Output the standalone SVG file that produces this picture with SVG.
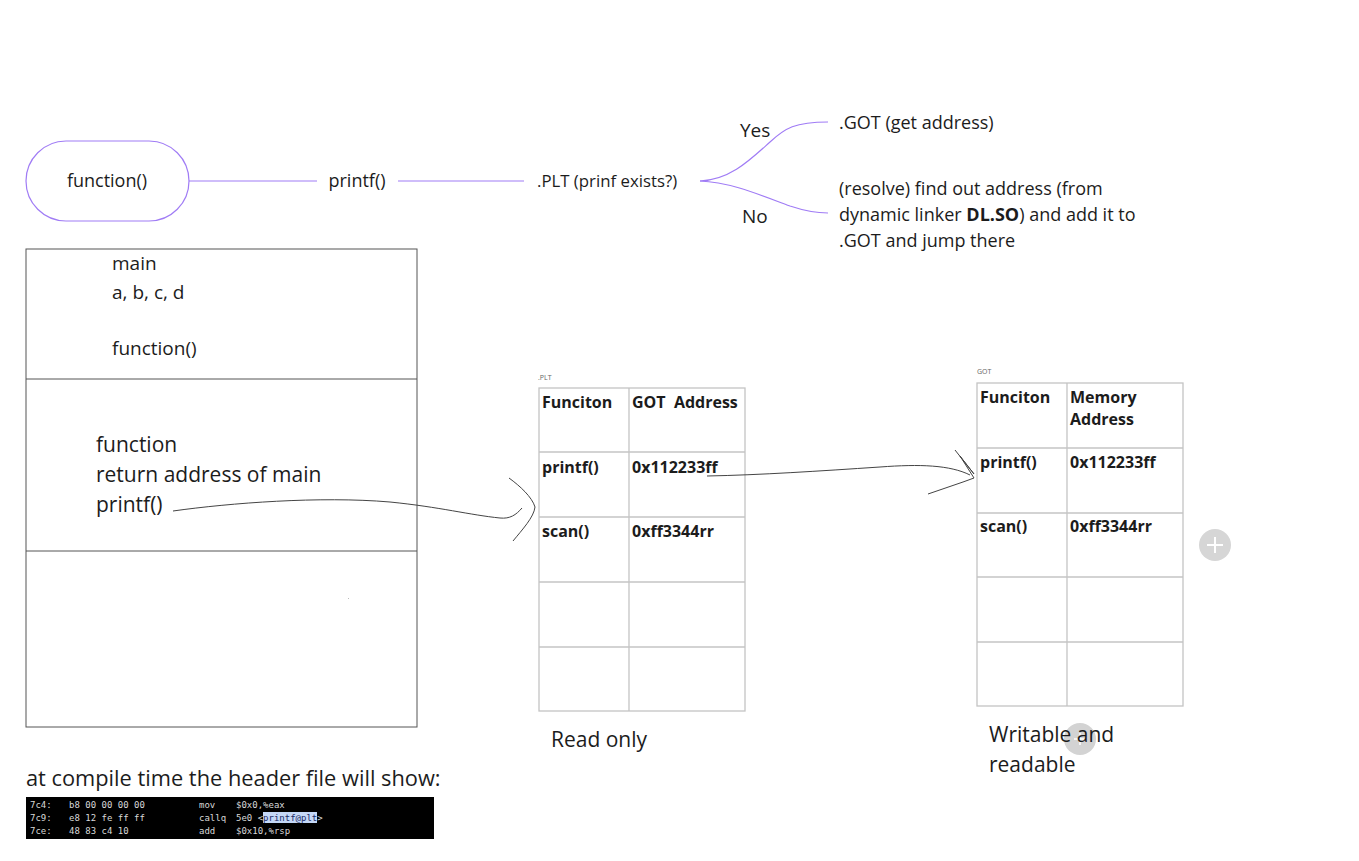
<svg xmlns="http://www.w3.org/2000/svg" width="1359" height="861" viewBox="0 0 1359 861">
<style>
text{font-family:"Open Sans","Liberation Sans",sans-serif;fill:#1c1c1c}
.t16{font-size:18px}
.t17{font-size:16.8px}
.t19{font-size:19px}
.t20{font-size:21px}
.t22{font-size:21.8px}
.b{font-size:16px;font-weight:bold;white-space:pre}
.sm{font-size:7px;fill:#666}
.purple{fill:none;stroke:#a07cf5;stroke-width:1.2}
.grid{fill:none;stroke:#c4c4c4;stroke-width:1.3}
.box{fill:none;stroke:#555;stroke-width:1}
.hand{fill:none;stroke:#444;stroke-width:1}
.mono{font-family:"DejaVu Sans Mono","Liberation Mono",monospace;font-size:9px;fill:#d8d8d8}
</style>
<rect width="1359" height="861" fill="#fff"/>
<g id="plus-2">
<circle cx="1080" cy="739" r="16" fill="#d3d3d3"/>
<path d="M1080,733 V745 M1074,739 H1086" stroke="#fff" stroke-width="1.5"/>
</g>
<g id="node-function">
<rect class="purple" x="26" y="141" width="163" height="80" rx="40" ry="40" fill="#fff"/>
<text class="t16" x="107" y="187" text-anchor="middle">function()</text>
</g>
<g id="node-printf">
<text class="t16" x="357" y="187" text-anchor="middle">printf()</text>
</g>
<g id="node-plt">
<text class="t17" x="537" y="187">.PLT (prinf exists?)</text>
</g>
<g id="label-yes"><text class="t19" x="740" y="137">Yes</text></g>
<g id="label-no"><text class="t19" x="742" y="223">No</text></g>
<g id="node-got">
<text class="t16" x="839" y="129">.GOT (get address)</text>
</g>
<g id="node-resolve">
<text class="t16" x="839" y="195">(resolve) find out address (from</text>
<text class="t16" x="839" y="221">dynamic linker <tspan font-weight="bold">DL.SO</tspan>) and add it to</text>
<text class="t16" x="839" y="247">.GOT and jump there</text>
</g>
<g id="node-stack">
<rect class="box" x="26" y="249" width="391" height="478"/>
<line x1="26" y1="379" x2="417" y2="379" stroke="#555" stroke-width="1"/>
<line x1="26" y1="551" x2="417" y2="551" stroke="#555" stroke-width="1"/>
<text class="t19" x="112" y="270">main</text>
<text class="t19" x="112" y="299">a, b, c, d</text>
<text class="t19" x="112" y="355">function()</text>
<text class="t20" x="96" y="452">function</text>
<text class="t20" x="96" y="482">return address of main</text>
<text class="t20" x="96" y="512">printf()</text>
<rect x="348" y="598" width="1" height="1" fill="#bbb"/>
</g>
<g id="node-plt-table">
<text class="sm" x="538" y="380">.PLT</text>
<rect class="grid" x="539" y="388" width="206" height="323"/>
<line class="grid" x1="629" y1="388" x2="629" y2="711"/>
<line class="grid" x1="539" y1="452" x2="745" y2="452"/>
<line class="grid" x1="539" y1="517" x2="745" y2="517"/>
<line class="grid" x1="539" y1="582" x2="745" y2="582"/>
<line class="grid" x1="539" y1="647" x2="745" y2="647"/>
<text class="b" x="542" y="408">Funciton</text>
<text class="b" x="632" y="408" xml:space="preserve">GOT  Address</text>
<text class="b" x="542" y="473">printf()</text>
<text class="b" x="632" y="473">0x112233ff</text>
<text class="b" x="542" y="537">scan()</text>
<text class="b" x="632" y="537">0xff3344rr</text>
<text class="t20" x="551" y="747">Read only</text>
</g>
<g id="node-got-table">
<text class="sm" x="977" y="374">GOT</text>
<rect class="grid" x="977" y="383" width="206" height="323"/>
<line class="grid" x1="1067" y1="383" x2="1067" y2="706"/>
<line class="grid" x1="977" y1="448" x2="1183" y2="448"/>
<line class="grid" x1="977" y1="513" x2="1183" y2="513"/>
<line class="grid" x1="977" y1="577" x2="1183" y2="577"/>
<line class="grid" x1="977" y1="642" x2="1183" y2="642"/>
<text class="b" x="980" y="403">Funciton</text>
<text class="b" x="1070" y="403">Memory</text>
<text class="b" x="1070" y="425">Address</text>
<text class="b" x="980" y="468">printf()</text>
<text class="b" x="1070" y="468">0x112233ff</text>
<text class="b" x="980" y="532">scan()</text>
<text class="b" x="1070" y="532">0xff3344rr</text>
<text class="t20" x="989" y="742">Writable and</text>
<text class="t20" x="989" y="772">readable</text>
</g>
<g id="connectors">
<line class="purple" x1="189" y1="181" x2="317" y2="181"/>
<line class="purple" x1="398" y1="181" x2="524" y2="181"/>
<path class="purple" d="M700,181 C730,180 750,160 770,142 C785,128 795,122 828,122"/>
<path class="purple" d="M700,181 C730,182 760,195 790,206 C805,211 815,213 828,213"/>
<path class="hand" d="M173,511 C230,503 320,496 390,502 C440,507 470,515 500,518 C510,519 516,515 522,508"/>
<path class="hand" d="M509,478 C520,486 532,497 535,507 C534,517 522,530 513,541"/>
<path class="hand" d="M707,476 C760,475 820,471 880,467 C920,464 950,465 970,475"/>
<path class="hand" d="M955,450 L974,474 L960,456 L974,478 L963,482 L928,494"/>
</g>
<g id="plus-1">
<circle cx="1215" cy="545" r="16" fill="#d6d6d6"/>
<path d="M1215,537 V553 M1207,545 H1223" stroke="#fff" stroke-width="2"/>
</g>
<g id="node-compile">
<text class="t22" x="26" y="786">at compile time the header file will show:</text>
<rect x="26" y="797" width="408" height="42" fill="#000"/>
<rect x="263" y="812" width="54" height="11" fill="#c5d8f7"/>
<text class="mono" x="30" y="808">7c4:</text><text class="mono" x="69" y="808">b8 00 00 00 00</text><text class="mono" x="199" y="808">mov</text><text class="mono" x="236" y="808">$0x0,%eax</text>
<text class="mono" x="30" y="821">7c9:</text><text class="mono" x="69" y="821">e8 12 fe ff ff</text><text class="mono" x="199" y="821">callq</text><text class="mono" x="236" y="821">5e0 &lt;<tspan fill="#1a2a66">printf@plt</tspan>&gt;</text>
<text class="mono" x="30" y="834">7ce:</text><text class="mono" x="69" y="834">48 83 c4 10</text><text class="mono" x="199" y="834">add</text><text class="mono" x="236" y="834">$0x10,%rsp</text>
</g>
</svg>
